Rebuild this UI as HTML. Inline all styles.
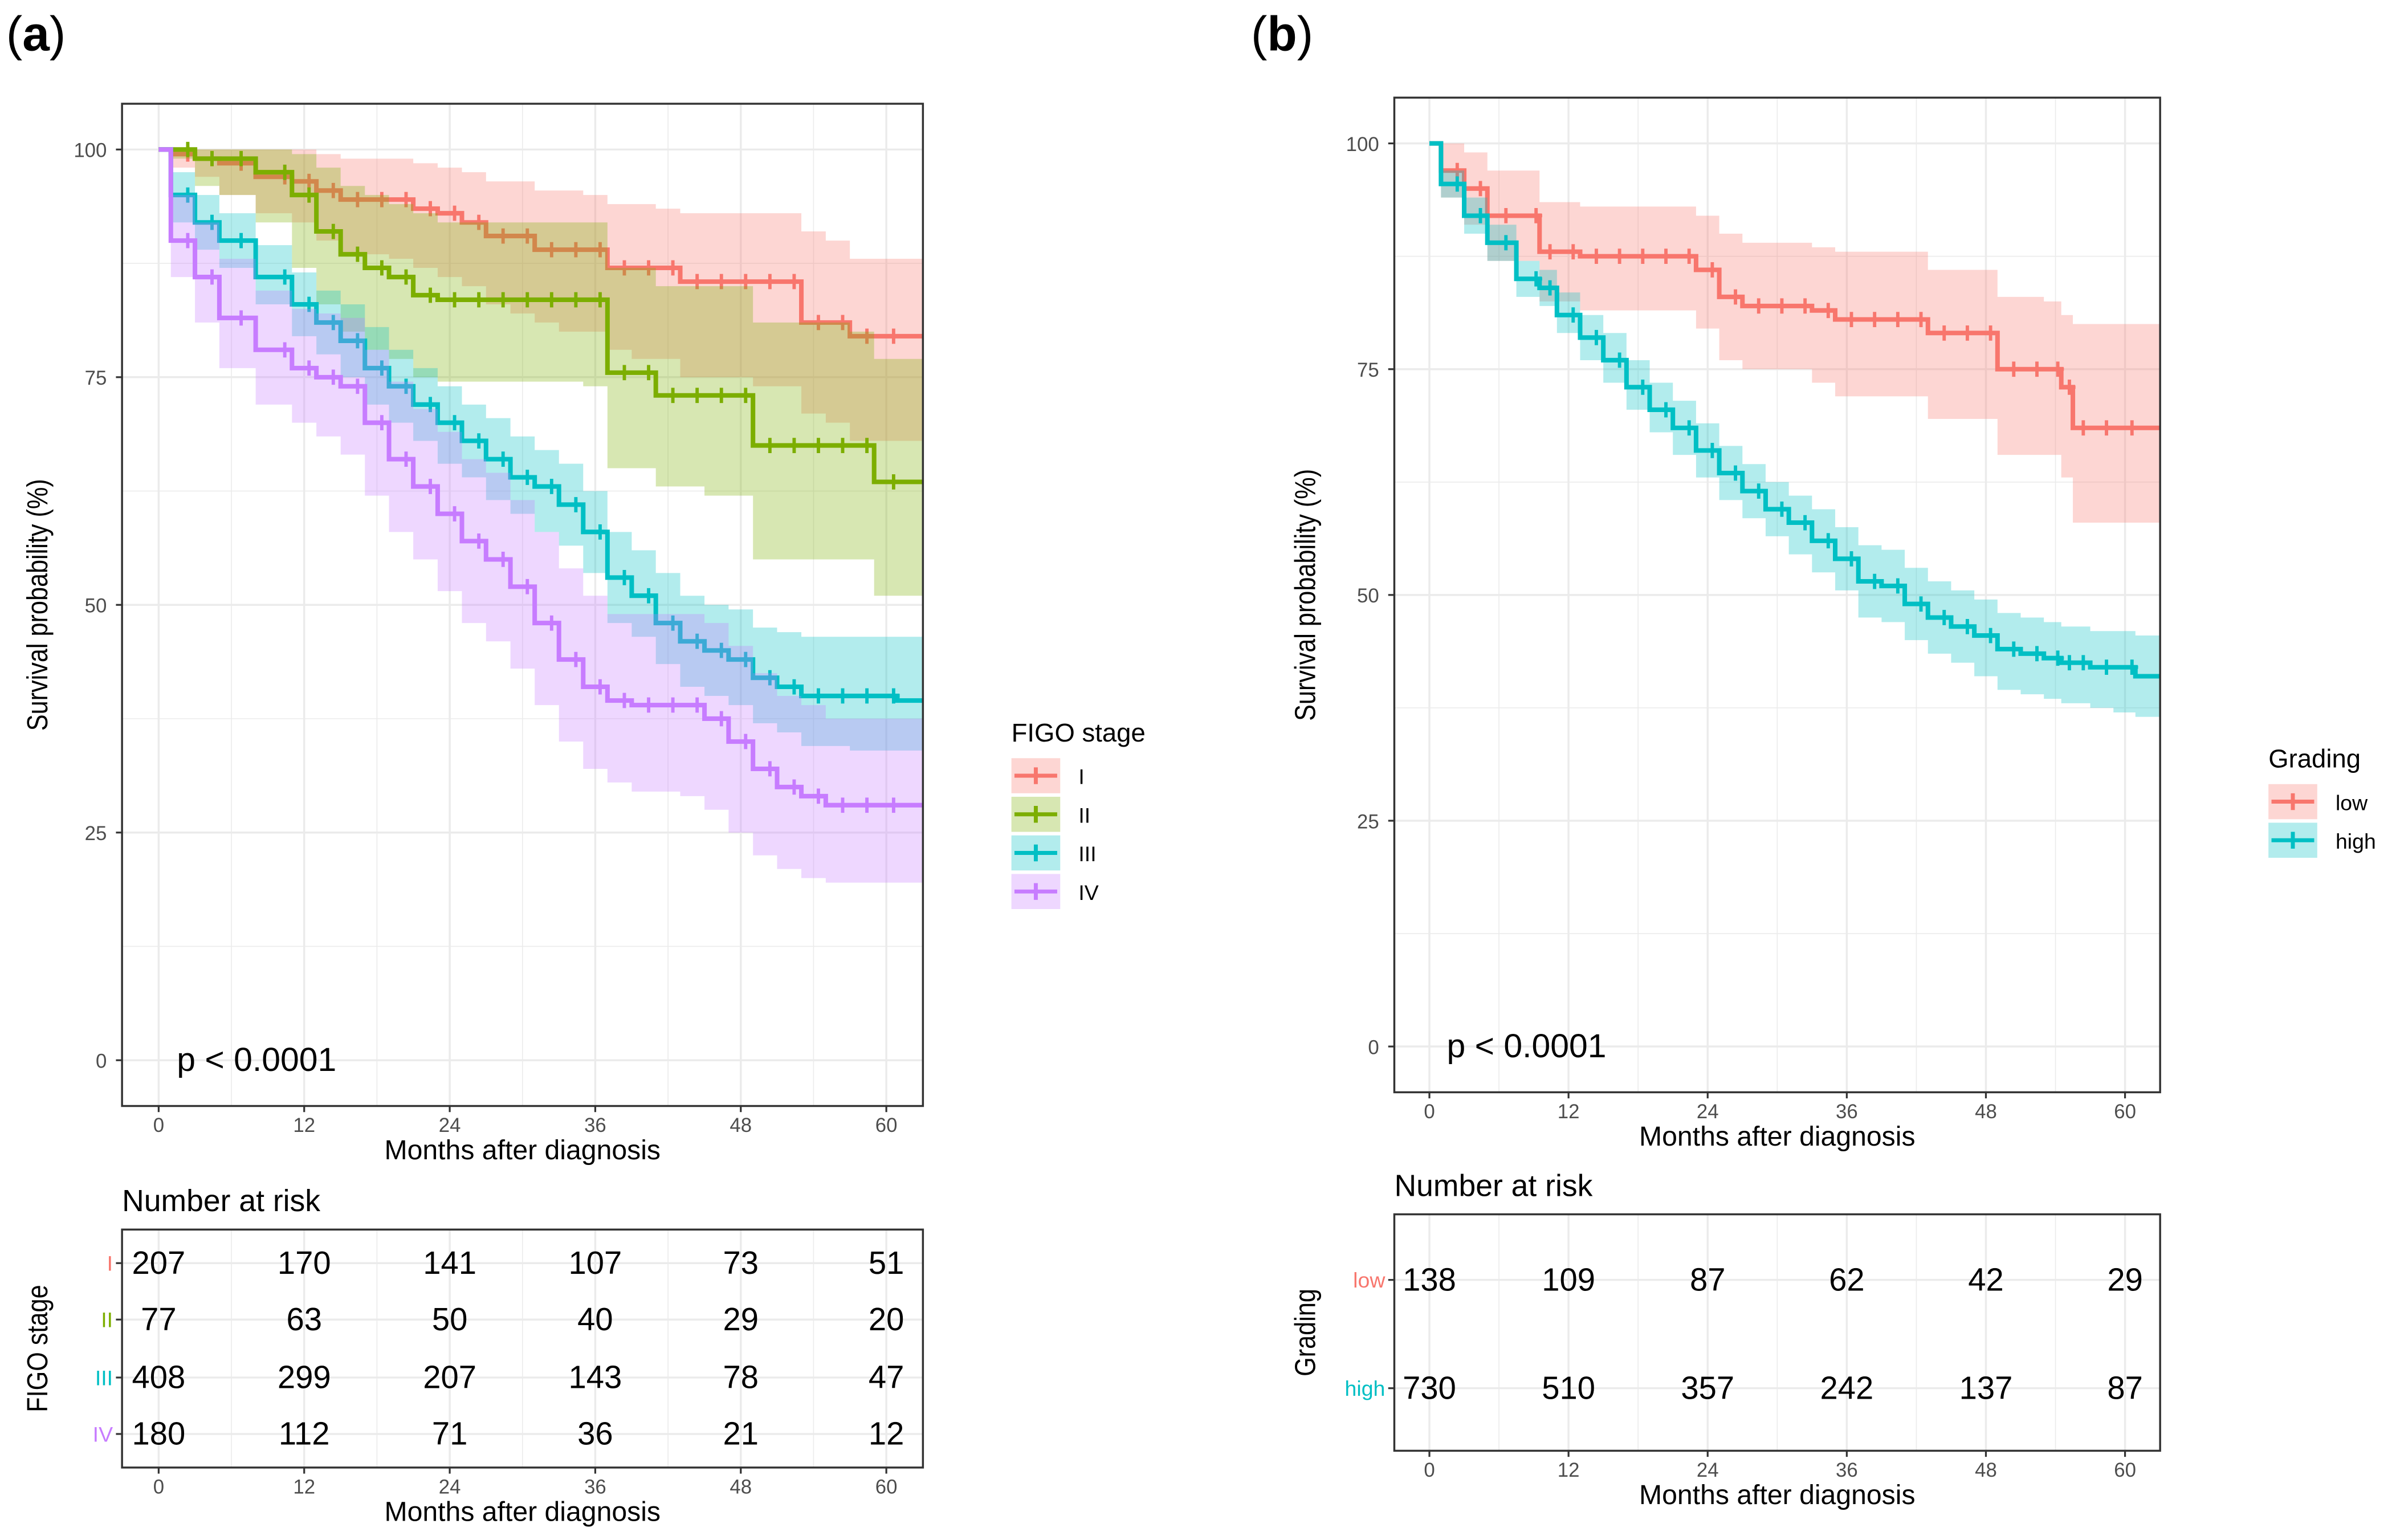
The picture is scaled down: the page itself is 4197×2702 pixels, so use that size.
<!DOCTYPE html>
<html><head><meta charset="utf-8"><style>
html,body{margin:0;padding:0;background:#fff}
svg{display:block}
text{font-family:"Liberation Sans",sans-serif}
</style></head><body>
<svg id="s" width="4197" height="2702" viewBox="0 0 1568 1009.5" preserveAspectRatio="none" xmlns="http://www.w3.org/2000/svg">
<text x="4" y="33" font-family="Liberation Serif" font-size="32">(<tspan font-weight="bold">a</tspan>)</text>
<text x="820" y="33" font-family="Liberation Serif" font-size="32">(<tspan font-weight="bold">b</tspan>)</text>
</svg>
<script>
// Panel A data
const aTimes=[0,2,4,6,10,12,14,16,18,20,22,24,26,28,30,32,34,36,38,40,42,44,46,48,50,52,54,56,58,60,63];
const aI=[100,99.5,99,98.5,97,96.5,95.5,94.5,94.5,94.5,93.5,93,92,90.5,90.5,89,89,89,87,87,87,85.5,85.5,85.5,85.5,85.5,81,81,79.5,79.5,79.5];
const aIlo=[100,98,97,95,93,92,90,88.5,88.5,88,87,86,85,83,82,81,80,80,78,77,77,75,75,75,74,74,71,70,68,68,68];
const aIhi=[100,100,100,100,100,100,99.5,99,99,99,98.5,98,97.5,96.5,96.5,95.5,95.5,95,94,94,93.5,93,93,93,93,93,91,90,88,88,88];
const aII=[100,100,99,99,97.5,95,91,88.5,87,86,84,83.5,83.5,83.5,83.5,83.5,83.5,83.5,75.5,75.5,73,73,73,73,67.5,67.5,67.5,67.5,67.5,63.5,63.5];
const aIIlo=[100,99,96,95,92,87,83,80,78,77,75,74.5,74.5,74.5,74.5,74.5,74.5,74,65,65,63,63,62,62,55,55,55,55,55,51,51];
const aIIhi=[100,100,100,100,100,99.5,98,96,95,94,93,92,92,92,92,92,92,92,87,87,85,85,85,85,81,81,81,81,80,77,77];
const aIII=[100,95,92,90,86,83,81,79,76,74,72,70,68,66,64,63,61,58,53,51,48,46,45,44,42,41,40,40,40,40,39.5];
const aIIIlo=[100,92,89,87,83,79.5,77.5,75,72,70,68,65.5,64,61.5,60,58,56.5,53.5,48,46.5,43.5,41,40,39,37,36,34.5,34.5,34,34,34];
const aIIIhi=[100,97.5,95,93,89.5,86.5,84.5,83,80.5,78,76,74,72,70.5,68.5,67,65.5,62.5,58,56,53.5,51,50,49.5,47.5,47,46.5,46.5,46.5,46.5,46.5];
const aIV=[100,90,86,81.5,78,76,75,74,70,66,63,60,57,55,52,48,44,41,39.5,39,39,39,37.5,35,32,30,29,28,28,28,28];
const aIVlo=[100,86,81,76,72,70,68.5,66.5,62,58,55,51.5,48,46,43,39,35,32,30.5,29.5,29.5,29,27.5,25,22.5,21,20,19.5,19.5,19.5,19.5];
const aIVhi=[100,95,92,88,84.5,82.5,82,81.5,78,74.5,71.5,69,66,64.5,61.5,58,54,51,49,49,49,49,48,45.5,42.5,40,39,37.5,37.5,37.5,37.5];
const aRiskI=[207,170,141,107,73,51];
const aRiskII=[77,63,50,40,29,20];
const aRiskIII=[408,299,207,143,78,47];
const aRiskIV=[180,112,71,36,21,12];
// Panel B data
const bTimes=[0,2,4,6,9,10,12,14,16,18,20,22,24,26,28,30,32,34,36,38,40,42,44,46,48,50,52,54,55,56,58,60,63];
const bLow=[100,97,95,92,92,88,88,87.5,87.5,87.5,87.5,87.5,86,83,82,82,82,81.5,80.5,80.5,80.5,80.5,79,79,79,75,75,75,73,68.5,68.5,68.5,68.5];
const bLowLo=[100,94,91,87,87,82.5,82.5,81.5,81.5,81.5,81.5,81.5,79.5,76,75,75,75,73.5,72,72,72,72,69.5,69.5,69.5,65.5,65.5,65.5,63,58,58,58,58];
const bLowHi=[100,100,99,97,97,93.5,93.5,93,93,93,93,93,92,90,89,89,89,88.5,88,88,88,88,86,86,86,83,83,82.5,81,80,80,80,80];
const bHigh=[100,95.5,92,89,85,84,81,78.5,76,73,70.5,68.5,66,63.5,61.5,59.5,58,56,54,51.5,51,49,47.5,46.5,45.5,44,43.5,43,42.5,42.5,42,42,41];
const bHighLo=[100,94,90,87,83,82,79,76,73.5,70.5,68,65.5,63,60.5,58.5,56.5,54.5,52.5,50.5,47.5,47,45,43.5,42.5,41,39.5,39,38.5,38,38,37.5,37,36.5];
const bHighHi=[100,97,94,91,87,86,83.5,81,79,76,73.5,71.5,69,66.5,64.5,62.5,61,59.5,57.5,55.5,55,53,51.5,50.5,49.5,48,47.5,47,46.5,46.5,46,46,45.5];
const bRiskLow=[138,109,87,62,42,29];
const bRiskHigh=[730,510,357,242,137,87];
const xTicks=[0,12,24,36,48,60];
const yTicks=[0,25,50,75,100];

const NS="http://www.w3.org/2000/svg";
const svg=document.getElementById('s');
function mk(tag,attrs,parent){const e=document.createElementNS(NS,tag);for(const k in attrs)e.setAttribute(k,attrs[k]);(parent||svg).appendChild(e);return e;}
function txt(x,y,s,size,opts,parent){const e=mk('text',Object.assign({x:x,y:y,'font-size':size},opts||{}),parent);e.textContent=s;return e;}

function panel(P){
  const g=mk('g',{});
  
  
  const sx=t=>P.x0+(t/60)*(P.x60-P.x0);
  const sy=v=>P.y0+(100-v)/100*(P.yz-P.y0);
  mk('rect',{x:P.L,y:P.T,width:P.R-P.L,height:P.B-P.T,fill:'#fff'},g);
  for(let t=-6;t<=66;t+=6){const x=sx(t);if(x<=P.L||x>=P.R)continue;mk('line',{x1:x,x2:x,y1:P.T,y2:P.B,stroke:'#ebebeb','stroke-width':t%12===0?1.3:0.6},g);}
  for(let v=-12.5;v<=112.5;v+=12.5){const y=sy(v);if(y<=P.T||y>=P.B)continue;mk('line',{x1:P.L,x2:P.R,y1:y,y2:y,stroke:'#ebebeb','stroke-width':v%25===0?1.3:0.6},g);}
  P.series.forEach(S=>{
    const T=P.times;
    // step to arr[i] happens at midpoint between T[i-1] and T[i]
    const stepPts=(arr)=>{let pts=[[sx(T[0]),sy(arr[0])]];for(let i=1;i<T.length;i++){const xm=sx(i===T.length-1?T[i-1]+ (T[i]-T[i-1])*0.3:(T[i-1]+T[i])/2);pts.push([xm,sy(arr[i-1])]);pts.push([xm,sy(arr[i])]);}pts.push([Math.min(sx(T[T.length-1]),P.R),sy(arr[arr.length-1])]);return pts;};
    const up=stepPts(S.hi),lo=stepPts(S.lo).reverse();
    const band=mk('path',{d:'M'+up.concat(lo).map(p=>p[0].toFixed(1)+','+p[1].toFixed(1)).join('L')+'Z',fill:S.col,'fill-opacity':0.3},g);
    
    
    const ln=mk('path',{d:'M'+stepPts(S.v).map(p=>p[0].toFixed(1)+','+p[1].toFixed(1)).join('L'),fill:'none',stroke:S.col,'stroke-width':3},g);
    
    
    for(let i=1;i<T.length-1;i++){
      const cx=sx(T[i])+(sx(T[i+1])-sx(T[i]))*0.2, cy=sy(S.v[i]);
      const c=mk('path',{d:`M${cx-4},${cy}h8M${cx},${cy-5}v10`,stroke:S.col,'stroke-width':2.2},g);
      
      
    }
  });
  mk('rect',{x:P.L,y:P.T,width:P.R-P.L,height:P.B-P.T,fill:'none',stroke:'#333','stroke-width':1.3},g);
  yTicks.forEach(v=>{const y=sy(v);mk('line',{x1:P.L-4,x2:P.L,y1:y,y2:y,stroke:'#333','stroke-width':1.2},g);
    const t=txt(P.L-10,y+5,String(v),13,{'text-anchor':'end',fill:'#4d4d4d'},g);});
  xTicks.forEach(v=>{const x=sx(v);mk('line',{x1:x,x2:x,y1:P.B,y2:P.B+4,stroke:'#333','stroke-width':1.2},g);
    const t=txt(x,P.B+17,String(v),13,{'text-anchor':'middle',fill:'#4d4d4d'},g);});
  const xt=txt((P.L+P.R)/2,P.B+35,'Months after diagnosis',18,{'text-anchor':'middle'},g);
  
  const yt=txt(0,0,'Survival probability (%)',19,{'text-anchor':'middle',transform:`translate(${P.ytx},${(P.T+P.B)/2}) rotate(-90) scale(0.85,1)`},g);
  
  const pv=txt(sx(1.5),sy(0)+7,'p < 0.0001',22,{},g);
  
  // legend
  const lg=mk('g',{},svg);
  
  
  txt(P.lx,P.ly,P.ltitle,17,{},lg);
  P.series.forEach((S,i)=>{const y=P.ly+11+i*25.3;
    mk('rect',{x:P.lx,y:y,width:32,height:23,fill:S.col,'fill-opacity':0.3},lg);
    mk('path',{d:`M${P.lx+2},${y+11.5}h28M${P.lx+16},${y+6}v11`,stroke:S.col,'stroke-width':2.6},lg);
    const e=txt(P.lx+44,y+17,S.label,14,{},lg);});
  // risk table
  const rg=mk('g',{},svg);
  
  
  txt(P.L,P.RT-12,'Number at risk',20,{},rg);
  mk('rect',{x:P.L,y:P.RT,width:P.R-P.L,height:P.RB-P.RT,fill:'#fff'},rg);
  for(let t=-6;t<=66;t+=6){const x=sx(t);if(x<=P.L||x>=P.R)continue;mk('line',{x1:x,x2:x,y1:P.RT,y2:P.RB,stroke:'#ebebeb','stroke-width':t%12===0?1.3:0.6},rg);}
  P.series.forEach((S,i)=>{const y=P.rowY[i];
    mk('line',{x1:P.L,x2:P.R,y1:y,y2:y,stroke:'#ebebeb','stroke-width':1.3},rg);
    mk('line',{x1:P.L-4,x2:P.L,y1:y,y2:y,stroke:'#333','stroke-width':1.2},rg);
    txt(P.L-6,y+5,S.label,14,{'text-anchor':'end',fill:S.col},rg);
    S.risk.forEach((n,j)=>{const e=txt(sx(xTicks[j]),y+7,String(n),21,{'text-anchor':'middle'},rg);
      });
  });
  mk('rect',{x:P.L,y:P.RT,width:P.R-P.L,height:P.RB-P.RT,fill:'none',stroke:'#333','stroke-width':1.3},rg);
  xTicks.forEach(v=>{const x=sx(v);mk('line',{x1:x,x2:x,y1:P.RB,y2:P.RB+4,stroke:'#333','stroke-width':1.2},rg);
    txt(x,P.RB+17,String(v),13,{'text-anchor':'middle',fill:'#4d4d4d'},rg);});
  txt((P.L+P.R)/2,P.RB+35,'Months after diagnosis',18,{'text-anchor':'middle'},rg);
  txt(0,0,P.ltitle,19,{'text-anchor':'middle',transform:`translate(${P.ytx},${(P.RT+P.RB)/2}) rotate(-90) scale(0.85,1)`},rg);
}
panel({name:'panel-a',L:80,R:605,T:68,B:725,x0:104,x60:581,y0:98,yz:695,ytx:31,times:aTimes,
  lx:663,ly:486,ltitle:'FIGO stage',RT:806,RB:962,rowY:[828,865,903,940],
  series:[{key:'stage-i',label:'I',col:'#F8766D',v:aI,lo:aIlo,hi:aIhi,risk:aRiskI},
          {key:'stage-ii',label:'II',col:'#7CAE00',v:aII,lo:aIIlo,hi:aIIhi,risk:aRiskII},
          {key:'stage-iii',label:'III',col:'#00BFC4',v:aIII,lo:aIIIlo,hi:aIIIhi,risk:aRiskIII},
          {key:'stage-iv',label:'IV',col:'#C77CFF',v:aIV,lo:aIVlo,hi:aIVhi,risk:aRiskIV}]});
panel({name:'panel-b',L:914,R:1416,T:64,B:716,x0:937,x60:1393,y0:94,yz:686,ytx:862,times:bTimes,
  lx:1487,ly:503,ltitle:'Grading',RT:796,RB:951,rowY:[839,910],
  series:[{key:'grade-low',label:'low',col:'#F8766D',v:bLow,lo:bLowLo,hi:bLowHi,risk:bRiskLow},
          {key:'grade-high',label:'high',col:'#00BFC4',v:bHigh,lo:bHighLo,hi:bHighHi,risk:bRiskHigh}]});
</script>
</body></html>
